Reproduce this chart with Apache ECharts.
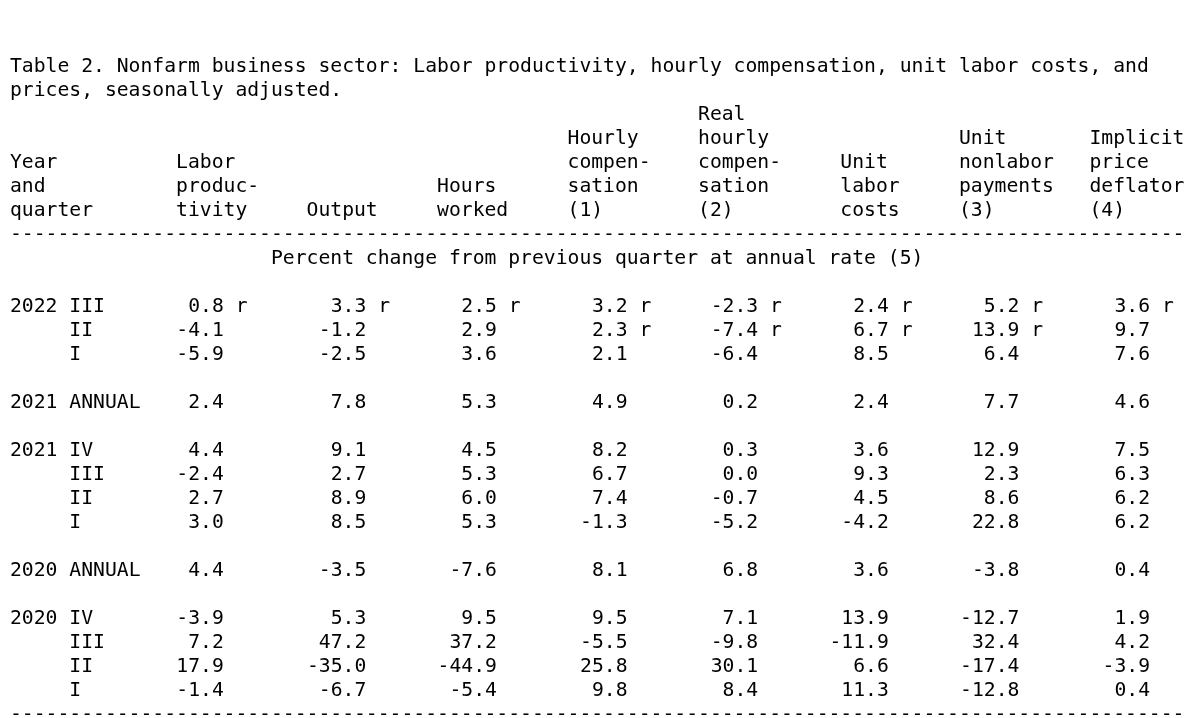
<!DOCTYPE html>
<html>
<head>
<meta charset="utf-8">
<script src="https://cdn.jsdelivr.net/npm/echarts@6/dist/echarts.min.js"></script>
<style>
html,body{margin:0;padding:0;background:#fff;}
#chart{width:1200px;height:718px;}
</style>
</head>
<body>
<div id="chart"></div>
<script>
// ---------- data ----------
const titleLines = [
  'Table 2. Nonfarm business sector: Labor productivity, hourly compensation, unit labor costs, and',
  'prices, seasonally adjusted.'
];
const subTitle = 'Percent change from previous quarter at annual rate (5)';

// header words per column (5 header lines, top to bottom)
const headYear      = ['', '', 'Year', 'and', 'quarter'];
const headLabor     = ['', '', 'Labor', 'produc-', 'tivity'];
const headOutput    = ['', '', '', '', 'Output'];
const headHours     = ['', '', '', 'Hours', 'worked'];
const headHourly    = ['', 'Hourly', 'compen-', 'sation', '(1)'];
const headReal      = ['Real', 'hourly', 'compen-', 'sation', '(2)'];
const headUlc       = ['', '', 'Unit', 'labor', 'costs'];
const headUnlp      = ['', 'Unit', 'nonlabor', 'payments', '(3)'];
const headDeflator  = ['', 'Implicit', 'price', 'deflator', '(4)'];

const measures = ['Labor productivity', 'Output', 'Hours worked', 'Hourly compensation',
  'Real hourly compensation', 'Unit labor costs', 'Unit nonlabor payments', 'Implicit price deflator'];

const rowLabels = ['2022 III', '     II', '     I', '', '2021 ANNUAL', '', '2021 IV', '     III', '     II', '     I',
  '', '2020 ANNUAL', '', '2020 IV', '     III', '     II', '     I'];

const laborProductivity = [0.8, -4.1, -5.9, null, 2.4, null, 4.4, -2.4, 2.7, 3.0, null, 4.4, null, -3.9, 7.2, 17.9, -1.4];
const output            = [3.3, -1.2, -2.5, null, 7.8, null, 9.1, 2.7, 8.9, 8.5, null, -3.5, null, 5.3, 47.2, -35.0, -6.7];
const hoursWorked       = [2.5, 2.9, 3.6, null, 5.3, null, 4.5, 5.3, 6.0, 5.3, null, -7.6, null, 9.5, 37.2, -44.9, -5.4];
const hourlyComp        = [3.2, 2.3, 2.1, null, 4.9, null, 8.2, 6.7, 7.4, -1.3, null, 8.1, null, 9.5, -5.5, 25.8, 9.8];
const realHourlyComp    = [-2.3, -7.4, -6.4, null, 0.2, null, 0.3, 0.0, -0.7, -5.2, null, 6.8, null, 7.1, -9.8, 30.1, 8.4];
const unitLaborCosts    = [2.4, 6.7, 8.5, null, 2.4, null, 3.6, 9.3, 4.5, -4.2, null, 3.6, null, 13.9, -11.9, 6.6, 11.3];
const unitNonlabor      = [5.2, 13.9, 6.4, null, 7.7, null, 12.9, 2.3, 8.6, 22.8, null, -3.8, null, -12.7, 32.4, -17.4, -12.8];
const priceDeflator     = [3.6, 9.7, 7.6, null, 4.6, null, 7.5, 6.3, 6.2, 6.2, null, 0.4, null, 1.9, 4.2, -3.9, 0.4];

// revised ("r") flags: [column, row]
const revised = [[0,0],[1,0],[2,0],[3,0],[4,0],[5,0],[6,0],[7,0],[3,1],[4,1],[5,1],[6,1]];

// ---------- layout ----------
const CW = 11.875;                 // monospace character width
const FS = CW / 0.60205;           // font size giving that width
const FAMILY = '"DejaVu Sans Mono", "Liberation Mono", monospace';
const FONT = FS.toFixed(2) + 'px ' + FAMILY;
const LH = 24;
const DY = 2;                      // vertical nudge
const headerStarts = [0, 14, 25, 36, 47, 58, 70, 80, 91];
const headCols = [headYear, headLabor, headOutput, headHours, headHourly, headReal, headUlc, headUnlp, headDeflator];

function placeLine(li) {
  let s = '';
  headCols.forEach((col, k) => {
    const w = col[li];
    if (!w) return;
    while (s.length < headerStarts[k]) s += ' ';
    s += w;
  });
  return s;
}
const headerBlock = [
  titleLines[0], titleLines[1],
  placeLine(0), placeLine(1), placeLine(2), placeLine(3), placeLine(4),
  '-'.repeat(99),
  ' '.repeat(22) + subTitle
].join('\n');

const columns = [laborProductivity, output, hoursWorked, hourlyComp, realHourlyComp, unitLaborCosts, unitNonlabor, priceDeflator];
const cells = [];
columns.forEach((col, c) => {
  col.forEach((v, r) => {
    if (v === null) return;
    const isRev = revised.some(p => p[0] === c && p[1] === r);
    cells.push({ value: [c, r], text: v.toFixed(1), rev: isRev });
  });
});

// value right edges sit on character columns 29,40,...,95 (first column one char further left)
const colStep = 11 * CW;
const gridLeft = 10 + 30 * CW - colStep;   // 235.625
const gridRight = 1200 - (gridLeft + 7 * colStep);

const chart = echarts.init(document.getElementById('chart'), null, { renderer: 'canvas' });
const option = {
  backgroundColor: '#ffffff',
  animation: false,
  grid: { left: gridLeft, right: gridRight, top: 305 + DY, bottom: 718 - 689 - DY, containLabel: false },
  xAxis: {
    type: 'category', data: measures, boundaryGap: false,
    axisLine: { show: false }, axisTick: { show: false }, axisLabel: { show: false }, splitLine: { show: false }
  },
  yAxis: {
    type: 'category', data: rowLabels, inverse: true, boundaryGap: false,
    axisLine: { show: false }, axisTick: { show: false }, splitLine: { show: false },
    axisLabel: {
      interval: 0, align: 'left', margin: gridLeft - 10, color: '#000',
      fontFamily: FAMILY, fontSize: FS
    }
  },
  series: [{
    type: 'custom',
    data: cells.map(d => d.value),
    encode: { x: 0, y: 1 },
    renderItem: function (params, api) {
      const cell = cells[params.dataIndex];
      const p = api.coord([api.value(0), api.value(1)]);
      const shift = (api.value(0) === 0 ? -CW : 0) + (cell.rev ? 2 * CW : 0);
      return {
        type: 'text',
        x: p[0] + shift, y: p[1],
        style: {
          text: cell.rev ? cell.text + ' r' : cell.text,
          align: 'right', verticalAlign: 'middle',
          font: FONT, fill: '#000'
        }
      };
    }
  }],
  graphic: [
    { type: 'text', x: 10, y: 65 - LH / 2 + DY, style: { text: headerBlock, font: FONT, lineHeight: LH, fill: '#000', align: 'left', verticalAlign: 'top' } },
    { type: 'text', x: 10, y: 713 - LH / 2 + DY, style: { text: '-'.repeat(99), font: FONT, lineHeight: LH, fill: '#000', align: 'left', verticalAlign: 'top' } }
  ]
};
chart.setOption(option);
</script>
</body>
</html>
